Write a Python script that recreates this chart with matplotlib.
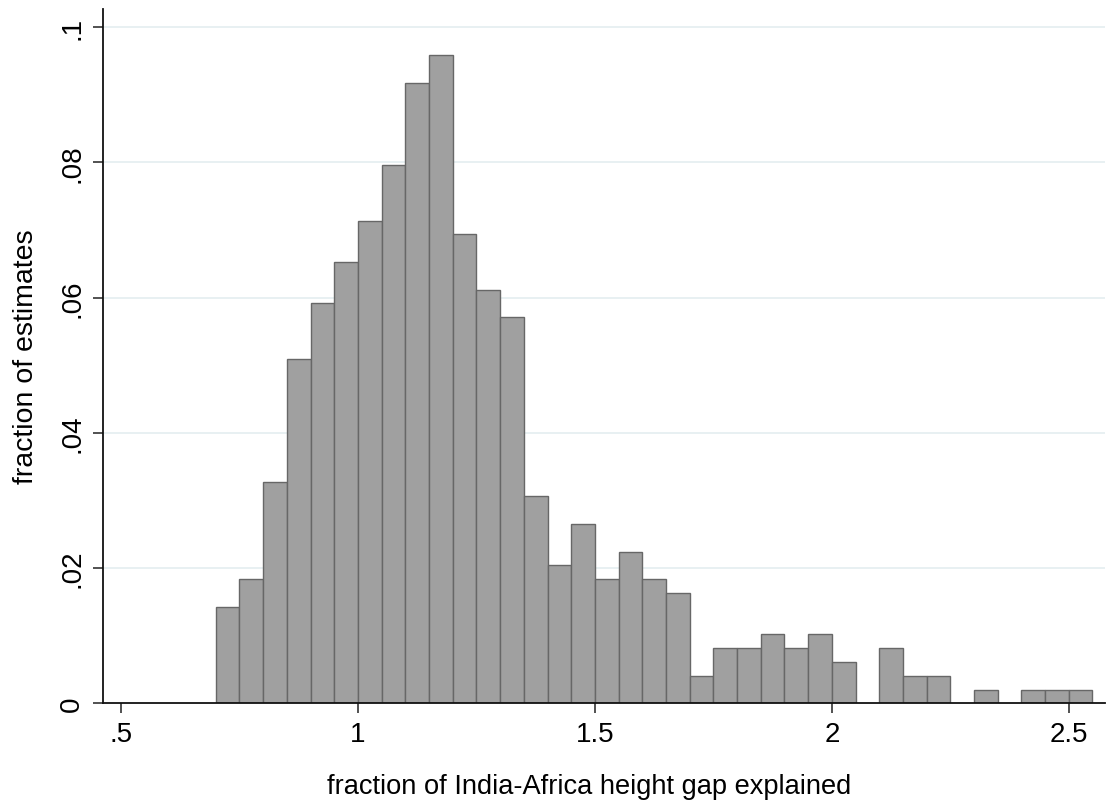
import matplotlib
matplotlib.use("Agg")
import matplotlib.pyplot as plt

# histogram bins (left edges, width 0.05) and fraction of estimates in each
bin_left = [0.70, 0.75, 0.80, 0.85, 0.90, 0.95, 1.00, 1.05, 1.10, 1.15,
            1.20, 1.25, 1.30, 1.35, 1.40, 1.45, 1.50, 1.55, 1.60, 1.65,
            1.70, 1.75, 1.80, 1.85, 1.90, 1.95, 2.00, 2.10, 2.15, 2.20,
            2.30, 2.40, 2.45, 2.50]
fraction = [0.0143, 0.0184, 0.0327, 0.0510, 0.0592, 0.0653, 0.0714, 0.0796, 0.0918, 0.0959,
            0.0694, 0.0612, 0.0571, 0.0306, 0.0204, 0.0265, 0.0184, 0.0224, 0.0184, 0.0163,
            0.0041, 0.0082, 0.0082, 0.0102, 0.0082, 0.0102, 0.0061, 0.0082, 0.0041, 0.0041,
            0.0020, 0.0020, 0.0020, 0.0020]
bin_width = 0.05

xticks = [0.5, 1, 1.5, 2, 2.5]
xtick_labels = [".5", "1", "1.5", "2", "2.5"]
yticks = [0, 0.02, 0.04, 0.06, 0.08, 0.1]
ytick_labels = ["0", ".02", ".04", ".06", ".08", ".1"]

plt.rcParams["font.family"] = ["Liberation Sans", "DejaVu Sans"]

fig = plt.figure(figsize=(11.07, 8.04), dpi=100)
ax = fig.add_axes([0.0928, 0.124, 0.9052, 0.8636])

for y in yticks[1:]:
    ax.axhline(y, color="#e6eff1", lw=1.3, zorder=0)

ax.bar(bin_left, fraction, width=bin_width, align="edge",
       color="#a0a0a0", edgecolor="#676767", linewidth=1.0, zorder=2)

ax.set_xlim(0.4614, 2.576)
ax.set_ylim(0, 0.1027)

ax.set_xticks(xticks)
ax.set_xticklabels(xtick_labels)
ax.set_yticks(yticks)
ax.set_yticklabels(ytick_labels, rotation=90, va="center")

ax.tick_params(axis="both", direction="out", length=7.5, width=1.1,
               labelsize=20, color="#222222")
ax.tick_params(axis="x", pad=5)
ax.tick_params(axis="y", pad=5)

for side in ("top", "right"):
    ax.spines[side].set_visible(False)
for side in ("left", "bottom"):
    ax.spines[side].set_linewidth(1.3)
    ax.spines[side].set_color("#111111")

ax.set_xlabel("fraction of India-Africa height gap explained", fontsize=19.6)
ax.set_ylabel("fraction of estimates", fontsize=20.5)
ax.xaxis.set_label_coords(0.485, -0.1)
ax.yaxis.set_label_coords(-0.064, 0.5)

fig.savefig("out.png", dpi=100)
